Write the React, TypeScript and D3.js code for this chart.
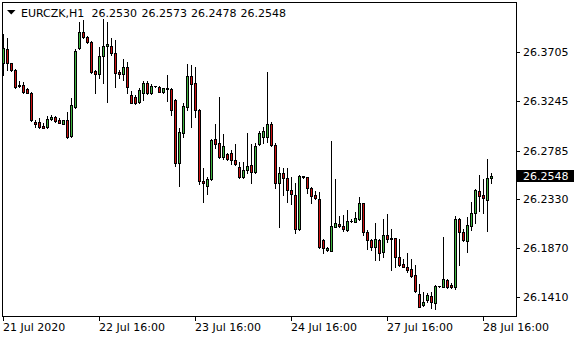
import React from "react";
import * as d3 from "d3";

const symbol = "EURCZK,H1";

const opens = [
  26.3602, 26.3733, 26.3602, 26.3539, 26.3389, 26.3399, 26.3358, 26.3321, 26.3055, 26.3049,
  26.3017, 26.3008, 26.3077, 26.3096, 26.3071, 26.3033, 26.3071, 26.2921, 26.3195, 26.3743,
  26.3898, 26.3846, 26.3799, 26.353, 26.3502, 26.367, 26.3764, 26.3764, 26.3696, 26.3523,
  26.3502, 26.3565, 26.3305, 26.3284, 26.3242, 26.3327, 26.342, 26.3321, 26.3389, 26.3383,
  26.333, 26.3368, 26.3358, 26.3258, 26.2671, 26.2952, 26.3195, 26.3483, 26.3415, 26.3165,
  26.2502, 26.2453, 26.2515, 26.289, 26.2853, 26.2721, 26.2752, 26.2765, 26.2696, 26.2633,
  26.2534, 26.2602, 26.2649, 26.2587, 26.2843, 26.2909, 26.2909, 26.3033, 26.2837, 26.2484,
  26.2577, 26.2525, 26.2415, 26.2368, 26.2047, 26.2546, 26.2534, 26.2431, 26.2368, 26.2328,
  26.1947, 26.1853, 26.1846, 26.2071, 26.2094, 26.2078, 26.204, 26.2125, 26.2118, 26.2141,
  26.2291, 26.2024, 26.1947, 26.1878, 26.1947, 26.1837, 26.1994, 26.1963, 26.1963, 26.1785,
  26.1722, 26.1691, 26.1672, 26.1619, 26.1441, 26.1338, 26.1385, 26.1422, 26.1359, 26.1516,
  26.1509, 26.1572, 26.1525, 26.1504, 26.2141, 26.2024, 26.194, 26.2078, 26.2197, 26.2406,
  26.2368, 26.2321, 26.253,
];

const highs = [
  26.3877, 26.3836, 26.3608, 26.3544, 26.3436, 26.343, 26.3368, 26.3336, 26.3071, 26.3087,
  26.304, 26.3108, 26.3118, 26.3108, 26.3087, 26.3071, 26.3149, 26.3274, 26.3733, 26.3992,
  26.4008, 26.3858, 26.3814, 26.3539, 26.3758, 26.4014, 26.3992, 26.3836, 26.382, 26.3539,
  26.364, 26.3617, 26.3345, 26.3305, 26.3368, 26.3439, 26.3439, 26.3408, 26.3392, 26.3389,
  26.3373, 26.3492, 26.3368, 26.3265, 26.2993, 26.3233, 26.3595, 26.3586, 26.3565, 26.3171,
  26.2618, 26.2534, 26.289, 26.3033, 26.3284, 26.294, 26.2759, 26.279, 26.2843, 26.268,
  26.268, 26.2952, 26.2846, 26.2853, 26.2971, 26.3008, 26.3523, 26.3055, 26.2853, 26.2633,
  26.2618, 26.2618, 26.254, 26.2478, 26.2556, 26.2549, 26.254, 26.2446, 26.2409, 26.2399,
  26.1953, 26.1884, 26.2874, 26.2518, 26.2172, 26.2181, 26.2228, 26.2141, 26.2212, 26.2347,
  26.2296, 26.204, 26.1953, 26.2109, 26.1953, 26.2146, 26.219, 26.2047, 26.1963, 26.1953,
  26.1766, 26.1822, 26.1766, 26.1713, 26.1535, 26.1462, 26.1453, 26.1462, 26.1525, 26.1519,
  26.1972, 26.1579, 26.1541, 26.2172, 26.215, 26.2047, 26.2159, 26.2306, 26.2422, 26.2556,
  26.2515, 26.2703, 26.2573,
];

const lows = [
  26.3492, 26.3539, 26.3533, 26.3368, 26.3377, 26.3327, 26.3324, 26.3064, 26.3003, 26.2999,
  26.2996, 26.2999, 26.3071, 26.3055, 26.3043, 26.3031, 26.2905, 26.2909, 26.3186, 26.3733,
  26.3836, 26.3789, 26.3514, 26.3321, 26.3462, 26.3415, 26.3242, 26.368, 26.3377, 26.3462,
  26.3446, 26.3327, 26.3227, 26.3221, 26.3233, 26.3258, 26.3314, 26.3314, 26.3383, 26.333,
  26.3324, 26.3252, 26.3118, 26.264, 26.2455, 26.2914, 26.3165, 26.3008, 26.3096, 26.2471,
  26.2306, 26.2378, 26.2509, 26.2806, 26.2712, 26.2703, 26.2696, 26.2659, 26.2649, 26.253,
  26.2528, 26.2572, 26.2478, 26.2577, 26.2837, 26.2858, 26.2868, 26.2827, 26.2431, 26.2071,
  26.2368, 26.2306, 26.2284, 26.2015, 26.204, 26.253, 26.2384, 26.2296, 26.2328, 26.1869,
  26.1822, 26.1846, 26.184, 26.2069, 26.2071, 26.2034, 26.2034, 26.2115, 26.2112, 26.2134,
  26.1994, 26.1862, 26.1853, 26.1759, 26.1759, 26.179, 26.1931, 26.1666, 26.1697, 26.1703,
  26.1691, 26.165, 26.1603, 26.1462, 26.1316, 26.1328, 26.1366, 26.1313, 26.1303, 26.1509,
  26.1504, 26.1494, 26.1497, 26.1485, 26.1713, 26.194, 26.1837, 26.204, 26.2103, 26.2221,
  26.2202, 26.2034, 26.2478,
];

const closes = [
  26.3743, 26.3602, 26.3539, 26.3383, 26.3399, 26.3336, 26.3327, 26.3071, 26.3031, 26.3003,
  26.2999, 26.308, 26.3096, 26.3064, 26.3046, 26.3068, 26.2914, 26.3211, 26.372, 26.3898,
  26.3846, 26.3799, 26.3523, 26.3502, 26.367, 26.3764, 26.3783, 26.3696, 26.3508, 26.3502,
  26.3565, 26.3383, 26.3233, 26.3227, 26.3352, 26.342, 26.3321, 26.3389, 26.3387, 26.3336,
  26.3368, 26.3358, 26.3165, 26.2671, 26.2961, 26.3202, 26.3483, 26.3408, 26.3165, 26.2502,
  26.2478, 26.2515, 26.2884, 26.2846, 26.2721, 26.2827, 26.2703, 26.2696, 26.2656, 26.2534,
  26.2602, 26.264, 26.2587, 26.2827, 26.2946, 26.2971, 26.3033, 26.2837, 26.2484, 26.2577,
  26.2525, 26.2415, 26.2375, 26.2047, 26.2546, 26.2534, 26.2431, 26.2359, 26.2337, 26.1878,
  26.1869, 26.1869, 26.2078, 26.2103, 26.2078, 26.2047, 26.2125, 26.2122, 26.215, 26.2291,
  26.2024, 26.1947, 26.1878, 26.1953, 26.1828, 26.1994, 26.1953, 26.1953, 26.1785, 26.1713,
  26.1697, 26.1666, 26.1609, 26.1472, 26.1322, 26.1363, 26.1431, 26.1363, 26.1516, 26.1513,
  26.1579, 26.1509, 26.1504, 26.2141, 26.2024, 26.1947, 26.2087, 26.2197, 26.2415, 26.2362,
  26.2337, 26.2525, 26.2548,
];

const yTickValues = [26.3705, 26.3245, 26.2785, 26.233, 26.187, 26.141];
const xTickIndices = [0, 24, 48, 72, 96, 120];
const xTickLabels = ["21 Jul 2020", "22 Jul 16:00", "23 Jul 16:00", "24 Jul 16:00", "27 Jul 16:00", "28 Jul 16:00"];

const W = 580;
const H = 340;
const FONT = "'DejaVu Sans', Tahoma, sans-serif";
const BULL = "#3fb43f";
const BEAR = "#cc1010";

export default function App() {
  const n = opens.length;
  const x = d3.scaleLinear().domain([0, n - 1]).range([3, 3 + 4 * (n - 1)]);
  const y = d3.scaleLinear().domain([26.141, 26.3705]).range([297.3, 52.3]);
  const last = n - 1;
  const lastY = Math.round(y(closes[last]));
  const headerVals = [opens[last], highs[last], lows[last], closes[last]].map((v) => v.toFixed(4));
  const headerX = [91.5, 141.5, 191, 240.5];

  return (
    <svg
      width={W}
      height={H}
      style={{ position: "fixed", left: 0, top: 0, background: "#fff" }}
      fontFamily={FONT}
      fontSize={11}
    >
      <rect x={0} y={0} width={W} height={H} fill="#fff" />
      <rect x={2.5} y={2.5} width={514} height={314} fill="none" stroke="#000" strokeWidth={1} shapeRendering="crispEdges" />

      <g shapeRendering="crispEdges">
        {opens.map((o, i) => {
          const c = closes[i];
          const cx = Math.round(x(i));
          const yh = Math.round(y(highs[i]));
          const yl = Math.round(y(lows[i]));
          const top = Math.round(y(Math.max(o, c)));
          const bot = Math.round(y(Math.min(o, c)));
          const fill = c >= o ? BULL : BEAR;
          return (
            <g key={i}>
              <line x1={cx + 0.5} x2={cx + 0.5} y1={yh} y2={yl + 1} stroke="#000" strokeWidth={1} />
              {bot - top >= 2 ? (
                <rect x={cx - 0.5} y={top + 0.5} width={2} height={bot - top} fill={fill} stroke="#000" strokeWidth={1} />
              ) : (
                <rect x={cx - 1} y={top} width={3} height={bot - top + 1} fill="#000" />
              )}
            </g>
          );
        })}
      </g>

      <g shapeRendering="crispEdges">
        {yTickValues.map((v) => {
          const ty = Math.round(y(v));
          return <line key={v} x1={517} x2={520} y1={ty + 0.5} y2={ty + 0.5} stroke="#000" />;
        })}
        {xTickIndices.map((idx) => {
          const tx = Math.round(x(idx));
          return <line key={idx} x1={tx + 0.5} x2={tx + 0.5} y1={317} y2={321} stroke="#000" />;
        })}
      </g>

      {yTickValues.map((v) => {
        const ty = Math.round(y(v));
        return (
          <text key={v} x={523} y={ty + 4} fill="#000">
            {v.toFixed(4)}
          </text>
        );
      })}

      {xTickIndices.map((idx, k) => (
        <text key={idx} x={Math.round(x(idx))} y={331} fill="#000">
          {xTickLabels[k]}
        </text>
      ))}

      <rect x={517} y={lastY - 6} width={57} height={12} fill="#000" shapeRendering="crispEdges" />
      <text x={523} y={lastY + 4} fill="#fff">
        {closes[last].toFixed(4)}
      </text>

      <polygon points="7,10 15.5,10 11.25,14.5" fill="#000" />
      <text x={21} y={17} fill="#000">
        {symbol}
      </text>
      {headerVals.map((v, k) => (
        <text key={k} x={headerX[k]} y={17} fill="#000">
          {v}
        </text>
      ))}
    </svg>
  );
}
